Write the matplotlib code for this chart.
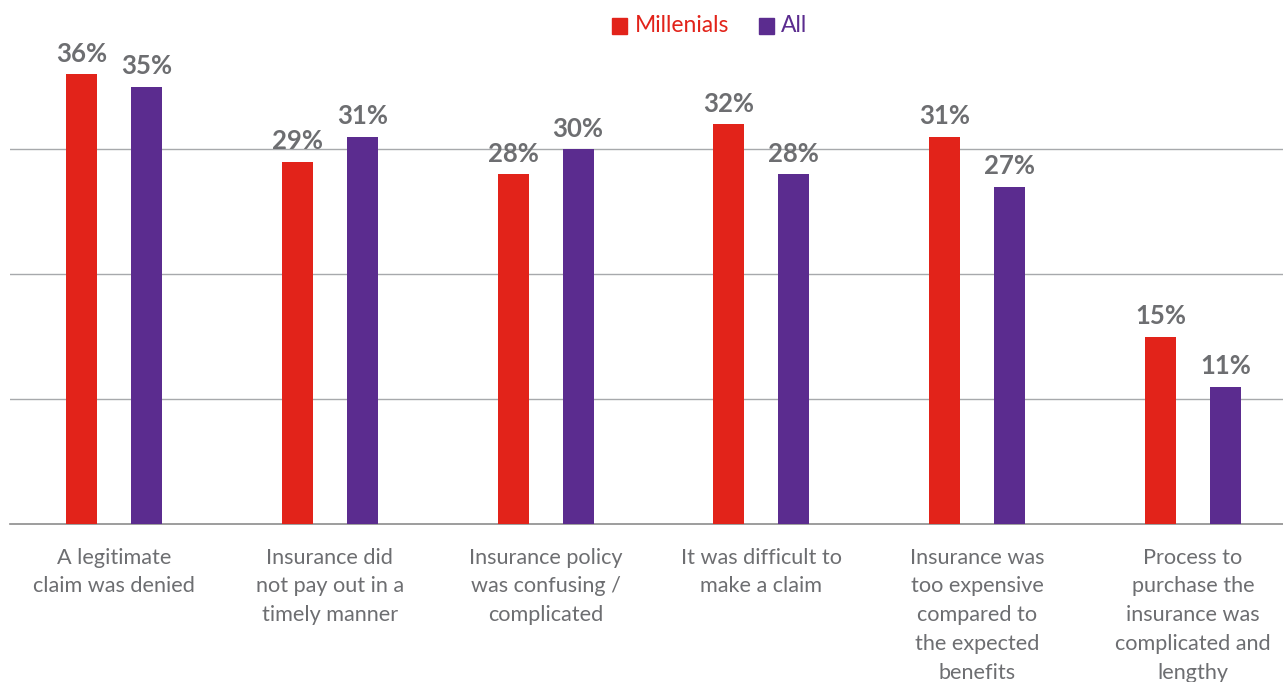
import matplotlib
matplotlib.use("Agg")
import matplotlib.pyplot as plt
from matplotlib.patches import Rectangle
import numpy as np

categories = [
    "A legitimate\nclaim was denied",
    "Insurance did\nnot pay out in a\ntimely manner",
    "Insurance policy\nwas confusing /\ncomplicated",
    "It was difficult to\nmake a claim",
    "Insurance was\ntoo expensive\ncompared to\nthe expected\nbenefits",
    "Process to\npurchase the\ninsurance was\ncomplicated and\nlengthy",
]
millenials = [36, 29, 28, 32, 31, 15]
all_resp = [35, 31, 30, 28, 27, 11]

RED = "#E2231A"
PURPLE = "#5B2C8F"
TEXT_GREY = "#6D6E71"
GRID_GREY = "#A7A9AC"

plt.rcParams["font.family"] = ["Lato", "DejaVu Sans"]

W, H = 1283, 682
fig = plt.figure(figsize=(W / 100, H / 100), dpi=100)
ax = fig.add_axes([10 / W, 158 / H, 1273 / W, 524 / H])

x = np.arange(len(categories))
width = 0.144
offset = 0.1506

bars_m = ax.bar(x - offset, millenials, width, color=RED, zorder=3)
bars_a = ax.bar(x + offset, all_resp, width, color=PURPLE, zorder=3)

for bars, vals in ((bars_m, millenials), (bars_a, all_resp)):
    for b, v in zip(bars, vals):
        ax.annotate(f"{v}%", (b.get_x() + b.get_width() / 2, v),
                    xytext=(0, 6), textcoords="offset points",
                    ha="center", va="bottom", fontsize=18.5,
                    fontweight="bold", color=TEXT_GREY)

ax.set_xlim(-0.482, 5.417)
ax.set_ylim(0, 41.92)
ax.set_yticks([10, 20, 30])
ax.yaxis.grid(True, color=GRID_GREY, linewidth=1, zorder=0)
ax.tick_params(axis="y", left=False, labelleft=False)
ax.tick_params(axis="x", bottom=False, labelbottom=False)
for side in ("top", "right", "left"):
    ax.spines[side].set_visible(False)
ax.spines["bottom"].set_color("#8C8C8C")
ax.spines["bottom"].set_linewidth(1.2)

for xi, label in zip(x, categories):
    ax.annotate(label, (xi, 0), xytext=(0, -17), textcoords="offset points",
                ha="center", va="top", fontsize=15.6, color=TEXT_GREY,
                linespacing=1.55, annotation_clip=False)

# legend: coloured squares with matching text
leg_y = 26
for sx, tx, name, col in ((612, 635, "Millenials", RED), (759, 781, "All", PURPLE)):
    fig.patches.append(Rectangle((sx / W, 1 - (leg_y + 8) / H), 15 / W, 16 / H,
                                 transform=fig.transFigure, color=col))
    fig.text(tx / W, 1 - leg_y / H, name, color=col, fontsize=16.5,
             ha="left", va="center")

fig.savefig("out.png", dpi=100)
